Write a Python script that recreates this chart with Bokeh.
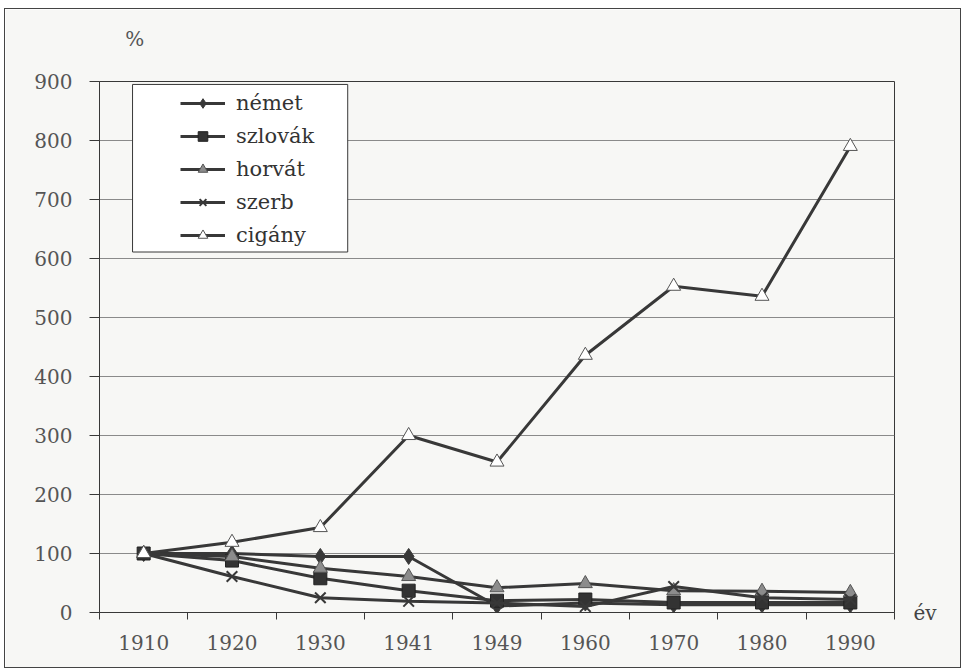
from bokeh.plotting import figure
from bokeh.models import (Range1d, FixedTicker, Legend, LegendItem, BoxAnnotation, LinearAxis)
from bokeh.embed import file_html
from bokeh.resources import INLINE

years = ["1910", "1920", "1930", "1941", "1949", "1960", "1970", "1980", "1990"]
nemet = [100, 100, 95, 95, 11, 16, 13, 13, 13]
szlovak = [100, 88, 58, 37, 20, 22, 17, 17, 17]
horvat = [100, 95, 75, 61, 42, 49, 37, 36, 34]
szerb = [100, 61, 25, 19, 16, 10, 44, 25, 22]
cigany = [100, 119, 144, 300, 255, 436, 553, 536, 790]
y_ticks = [0, 100, 200, 300, 400, 500, 600, 700, 800, 900]

names = ["német", "szlovák", "horvát", "szerb", "cigány"]
series = [nemet, szlovak, horvat, szerb, cigany]

xs = list(range(len(years)))

BG = "#f7f7f5"
DARK = "#383838"
FONT = "DejaVu Serif"

p = figure(width=957, height=660, output_backend="svg", toolbar_location=None,
           x_range=Range1d(-0.5, len(years) - 0.5), y_range=Range1d(0, 900),
           min_border_left=94, min_border_right=68, min_border_top=72, min_border_bottom=57,
           background_fill_color=BG, border_fill_color=BG)
p.styles = {"border": "1px solid #444", "margin-left": "4px", "margin-top": "8px"}
p.outline_line_color = DARK
p.outline_line_width = 1

# x axis: labels at category centres, ticks at category boundaries
xa = p.xaxis[0]
xa.ticker = FixedTicker(ticks=xs, minor_ticks=[i - 0.5 for i in range(len(years) + 1)])
xa.major_label_overrides = {i: y for i, y in enumerate(years)}
xa.major_tick_out = 0
xa.major_tick_in = 0
xa.minor_tick_out = 7
xa.minor_tick_in = 0
xa.minor_tick_line_color = DARK
xa.axis_line_color = DARK
xa.major_label_text_font = FONT
xa.major_label_text_font_size = "20px"
xa.major_label_text_color = "#555"
xa.major_label_standoff = 15

ya = p.yaxis[0]
ya.ticker = FixedTicker(ticks=y_ticks)
ya.minor_tick_line_color = None
ya.major_tick_out = 10
ya.major_tick_in = 0
ya.major_tick_line_color = DARK
ya.axis_line_color = DARK
ya.major_label_text_font = FONT
ya.major_label_text_font_size = "20px"
ya.major_label_text_color = "#555"
ya.major_label_standoff = 17

# unit label "%" above the value axis
pct_axis = LinearAxis(ticker=FixedTicker(ticks=[-0.1], minor_ticks=[]),
                      major_label_overrides={-0.1: "%"})
pct_axis.axis_line_color = None
pct_axis.major_tick_line_color = None
pct_axis.minor_tick_line_color = None
pct_axis.major_label_standoff = 25
pct_axis.major_label_text_font = FONT
pct_axis.major_label_text_font_size = "20px"
pct_axis.major_label_text_color = "#555"
p.add_layout(pct_axis, "above")

# axis title "év" right of the category axis
ev_axis = LinearAxis(ticker=FixedTicker(ticks=[0], minor_ticks=[]),
                     major_label_overrides={0: "év"})
ev_axis.axis_line_color = None
ev_axis.major_tick_line_color = None
ev_axis.minor_tick_line_color = None
ev_axis.major_label_standoff = 13
ev_axis.major_label_text_font = FONT
ev_axis.major_label_text_font_size = "20px"
ev_axis.major_label_text_color = "#444"
p.add_layout(ev_axis, "right")

p.xgrid.grid_line_color = None
p.ygrid.ticker = FixedTicker(ticks=y_ticks)
p.ygrid.grid_line_color = "#8a8a8a"
p.ygrid.grid_line_width = 1

marker_styles = [
    dict(marker="diamond", size=16, fill_color=DARK, line_color=DARK),
    dict(marker="square", size=13, fill_color="#333333", line_color="#222222"),
    dict(marker="triangle", size=14, fill_color="#8c8c8c", line_color="#555555"),
    dict(marker="x", size=15, fill_color=None, line_color=DARK, line_width=2),
    dict(marker="triangle", size=14, fill_color="white", line_color="#555555"),
]

items = []
for name, vals, ms in zip(names, series, marker_styles):
    ln = p.line(xs, vals, line_color=DARK, line_width=3)
    ms = dict(ms)
    lw = ms.pop("line_width", 1)
    sc = p.scatter(xs, vals, line_width=lw, **ms)
    items.append(LegendItem(label=name, renderers=[ln, sc]))

# legend frame
box = BoxAnnotation(left=-0.126, right=2.31, top=895, bottom=611,
                    fill_color="white", fill_alpha=1, line_color=DARK, line_width=1, line_alpha=1)
p.add_layout(box)

legend = Legend(items=items, location=(76, 360), margin=0, padding=5,
                glyph_width=45, glyph_height=24, label_height=24, spacing=9,
                label_standoff=11, label_text_font=FONT, label_text_font_size="21px",
                label_text_color="#333", border_line_alpha=0, background_fill_alpha=0)
p.add_layout(legend, "center")

open("out.html", "w").write(file_html(p, INLINE))
